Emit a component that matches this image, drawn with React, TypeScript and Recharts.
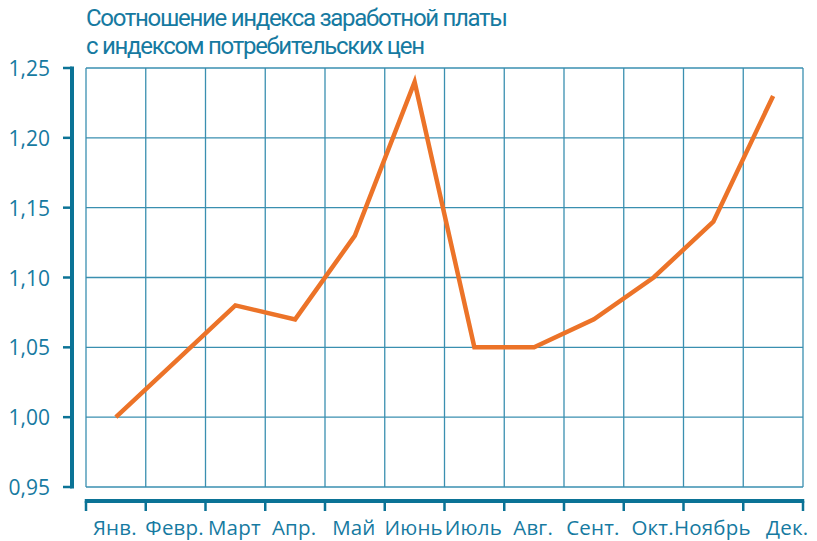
import { LineChart, Line, XAxis, YAxis, CartesianGrid } from "recharts";

const months = ["Янв.", "Февр.", "Март", "Апр.", "Май", "Июнь", "Июль", "Авг.", "Сент.", "Окт.", "Ноябрь", "Дек."];
const ratio = [1.0, 1.04, 1.08, 1.07, 1.13, 1.24, 1.05, 1.05, 1.07, 1.1, 1.14, 1.23];
const yTicks = [0.95, 1.0, 1.05, 1.1, 1.15, 1.2, 1.25];
const monthEdges = [0, 1, 2, 3, 4, 5, 6, 7, 8, 9, 10, 11, 12];
const titleLines = ["Соотношение индекса заработной платы", "с индексом потребительских цен"];

const data = months.map((month, i) => ({ pos: i + 0.5, month, value: ratio[i] }));

const W = 817;
const H = 541;
const M = { top: 68, right: 14, bottom: 0, left: 0 };
const Y_AXIS_W = 86;
const X_AXIS_H = 54;
const PLOT_W = W - M.left - M.right - Y_AXIS_W;
const PLOT_H = H - M.top - M.bottom - X_AXIS_H;
const BAND = PLOT_W / months.length;
const STEP = PLOT_H / (yTicks.length - 1);

const AXIS = "#0b7396";
const TEXT = "#167aa1";
const GRID = "#3a8fb0";
const LINE = "#ec7328";
const FONT = "'Open Sans', sans-serif";
const TITLE_FONT = "Roboto, 'Open Sans', sans-serif";
// widths of the two title lines as measured on the original
const TITLE_WIDTHS = [422, 339];

const Y_LINE_X = Y_AXIS_W - 14;
const X_LINE_Y = M.top + PLOT_H + 14;

function YTick({ y, payload }: any) {
  const v = payload.value as number;
  const isTop = v >= yTicks[yTicks.length - 1];
  return (
    <g>
      <line x1={Y_LINE_X - 9} x2={Y_LINE_X} y1={y} y2={y} stroke={AXIS} strokeWidth={2.5} />
      {!isTop && (
        <line x1={Y_LINE_X} x2={Y_LINE_X} y1={y + 1.5} y2={y - STEP - 1.5} stroke={AXIS} strokeWidth={4} />
      )}
      <text x={50} y={y + 8} textAnchor="end" fill={TEXT} fontFamily={FONT} fontSize={21}>
        {v.toFixed(2).replace(".", ",")}
      </text>
    </g>
  );
}

function XTick({ x, payload }: any) {
  const v = payload.value as number;
  const last = v >= months.length;
  // the last label sits a little to the right in the original
  const nudge = v === months.length - 1 ? 15 : 0;
  return (
    <g>
      <line x1={x} x2={x} y1={X_LINE_Y} y2={X_LINE_Y + 10} stroke={AXIS} strokeWidth={2.5} />
      {!last && (
        <>
          <line x1={x - 1.25} x2={x + BAND + 1.25} y1={X_LINE_Y} y2={X_LINE_Y} stroke={AXIS} strokeWidth={4} />
          <text
            x={x + BAND / 2 - 1 + nudge}
            y={X_LINE_Y + 34}
            textAnchor="middle"
            fill={TEXT}
            fontFamily={FONT}
            fontSize={20.5}
            letterSpacing={0.2}
          >
            {months[v]}
          </text>
        </>
      )}
    </g>
  );
}

export default function App() {
  return (
    <div style={{ position: "absolute", left: 0, top: 0, width: W, height: H, background: "#fff" }}>
      <svg width={W} height={62} style={{ position: "absolute", left: 0, top: 0 }}>
        {titleLines.map((t, i) => (
          <text
            key={t}
            x={86}
            y={26 + i * 28}
            fill={TEXT}
            fontFamily={TITLE_FONT}
            fontSize={24}
            textLength={TITLE_WIDTHS[i]}
            lengthAdjust="spacing"
          >
            {t}
          </text>
        ))}
      </svg>
      <div style={{ position: "absolute", left: 0, top: 0 }}>
        <LineChart width={W} height={H} data={data} margin={M}>
          <CartesianGrid stroke={GRID} strokeWidth={1.3} />
          <XAxis
            dataKey="pos"
            type="number"
            domain={[0, 12]}
            ticks={monthEdges}
            height={X_AXIS_H}
            axisLine={false}
            tickLine={false}
            tickSize={0}
            tick={<XTick />}
            interval={0}
          />
          <YAxis
            type="number"
            domain={[0.95, 1.25]}
            ticks={yTicks}
            width={Y_AXIS_W}
            axisLine={false}
            tickLine={false}
            tickSize={0}
            tick={<YTick />}
            interval={0}
          />
          <Line
            type="linear"
            dataKey="value"
            stroke={LINE}
            strokeWidth={4.5}
            dot={false}
            activeDot={false}
            isAnimationActive={false}
          />
        </LineChart>
      </div>
    </div>
  );
}
